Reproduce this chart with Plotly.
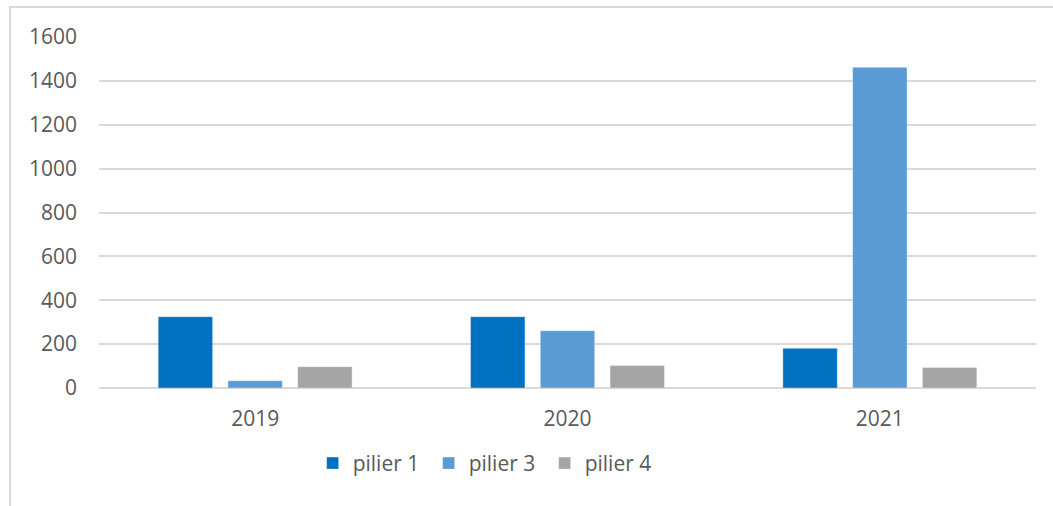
import plotly.graph_objects as go

# Series data
years = ["2019", "2020", "2021"]
pilier_1 = [325, 325, 181]
pilier_3 = [33, 261, 1462]
pilier_4 = [97, 102, 93]

series_names = ["pilier 1", "pilier 3", "pilier 4"]
series_values = [pilier_1, pilier_3, pilier_4]
series_colors = ["#0070C0", "#5B9BD5", "#A5A5A5"]

text_color = "#595959"
grid_color = "#D9D9D9"
font_family = "Open Sans"
font_size = 21

fig = go.Figure()
for name, vals, color in zip(series_names, series_values, series_colors):
    fig.add_trace(go.Bar(
        x=years,
        y=vals,
        name=name,
        marker=dict(color=color, line=dict(color="rgba(255,255,255,0.35)", width=1)),
    ))

# Outer frame of the chart area (left and top edges visible)
fig.add_shape(
    type="rect", xref="paper", yref="paper",
    x0=-0.095, x1=1.2, y0=-0.6, y1=1.0855,
    line=dict(color=grid_color, width=2), fillcolor="rgba(0,0,0,0)", layer="below",
)

fig.update_layout(
    width=1053,
    height=506,
    margin=dict(l=99, r=17, t=37, b=118),
    paper_bgcolor="white",
    plot_bgcolor="white",
    font=dict(family=font_family, size=font_size, color=text_color),
    barmode="group",
    bargap=0.33,
    bargroupgap=0.22,
    showlegend=True,
    legend=dict(
        orientation="h",
        x=0.228, xanchor="left",
        y=-0.215, yanchor="middle",
        font=dict(family=font_family, size=font_size, color=text_color),
        itemwidth=30,
        entrywidth=71,
        entrywidthmode="pixels",
        traceorder="normal",
    ),
    xaxis=dict(
        type="category",
        showgrid=False,
        showline=False,
        ticks="",
        ticklabelstandoff=16,
        tickfont=dict(family=font_family, size=font_size, color=text_color),
    ),
    yaxis=dict(
        range=[0, 1600],
        dtick=200,
        tick0=0,
        showgrid=True,
        gridcolor=grid_color,
        gridwidth=2,
        zeroline=True,
        zerolinecolor=grid_color,
        zerolinewidth=2,
        showline=False,
        ticks="",
        ticklabelstandoff=21,
        tickfont=dict(family=font_family, size=font_size, color=text_color),
    ),
)

fig.write_html("out.html")
